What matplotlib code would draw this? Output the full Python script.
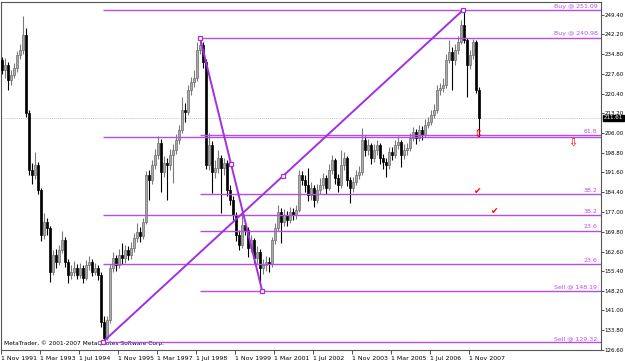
import matplotlib
matplotlib.use("Agg")
import matplotlib.pyplot as plt
import matplotlib.transforms as mtransforms
import numpy as np

# %% data (monthly bars)
first_open = 232.8
closes = [229.1, 230.9, 225.4, 227.3, 229.8, 234.6, 236.4, 241.9, 213.4, 192.5,
          190.6, 194.3, 185.1, 168.7, 173.4, 171.2, 155.1, 161.3, 158.8, 163.2,
          166.8, 158.8, 154.0, 155.1, 156.6, 154.0, 156.6, 152.9, 157.7, 158.8,
          155.1, 156.6, 154.0, 136.8, 130.9, 137.5, 156.6, 160.2, 157.7, 161.3,
          160.2, 163.2, 161.3, 163.9, 167.6, 169.8, 168.3, 173.4, 190.6, 188.8,
          194.3, 198.0, 202.4, 191.7, 195.0, 194.3, 198.0, 199.8, 203.5, 207.1,
          214.5, 213.7, 221.8, 224.7, 226.2, 236.4, 238.3, 232.0, 194.3, 201.6,
          191.7, 193.2, 196.9, 193.2, 195.0, 185.1, 181.5, 176.0, 168.7, 165.0,
          172.3, 170.5, 163.9, 166.8, 160.2, 162.4, 156.6, 157.7, 158.8, 157.9,
          166.8, 171.2, 177.1, 173.4, 176.0, 174.1, 177.1, 176.0, 177.8, 190.6,
          188.8, 187.0, 183.3, 185.9, 181.5, 185.1, 187.0, 189.5, 185.9, 192.5,
          196.1, 189.5, 187.0, 194.3, 196.9, 188.8, 185.9, 188.1, 190.6, 191.7,
          203.5, 199.8, 201.6, 196.9, 199.8, 201.6, 196.9, 195.4, 194.3, 199.1,
          198.0, 201.6, 202.7, 198.0, 199.8, 200.5, 204.2, 206.4, 204.2, 207.1,
          205.3, 209.0, 210.1, 212.6, 214.5, 221.8, 222.5, 223.6, 232.8, 235.7,
          232.8, 236.4, 239.4, 245.6, 240.1, 230.9, 234.6, 239.4, 221.8, 211.61]
highs = [234.0, 233.5, 232.0, 229.0, 231.5, 236.0, 238.5, 248.9, 244.5, 214.5,
         195.0, 199.1, 195.5, 186.0, 176.7, 175.0, 172.0, 163.0, 163.5, 165.0,
         170.0, 168.0, 160.0, 157.5, 159.0, 158.0, 158.5, 157.5, 159.5, 161.0,
         160.0, 158.5, 157.5, 155.0, 139.0, 139.0, 158.0, 162.5, 161.5, 163.5,
         165.7, 165.0, 164.5, 166.0, 169.5, 173.0, 171.5, 175.0, 192.0, 192.5,
         196.0, 200.0, 205.0, 204.0, 197.5, 197.0, 200.0, 202.0, 205.5, 209.0,
         219.2, 217.0, 223.5, 226.5, 229.0, 239.4, 241.0, 239.5, 233.0, 206.0,
         203.0, 196.0, 199.8, 198.0, 197.0, 196.0, 187.0, 183.0, 177.0, 170.5,
         177.8, 174.0, 171.5, 168.5, 167.5, 164.5, 163.5, 160.0, 161.0, 160.5,
         168.0, 173.0, 179.6, 178.5, 178.0, 177.5, 179.0, 178.5, 179.5, 192.5,
         192.0, 190.5, 193.2, 188.0, 187.0, 187.5, 189.5, 191.5, 190.5, 194.5,
         198.0, 197.0, 191.0, 199.8, 199.0, 197.5, 190.0, 190.0, 192.5, 194.0,
         207.9, 205.0, 204.0, 202.5, 202.0, 203.5, 202.5, 198.5, 197.0, 201.0,
         201.0, 203.5, 205.0, 203.5, 202.0, 202.5, 206.0, 208.2, 207.5, 209.0,
         208.5, 211.0, 212.0, 214.5, 216.5, 223.5, 224.5, 226.0, 235.0, 240.1,
         237.5, 238.5, 241.5, 247.5, 251.1, 241.0, 236.5, 240.5, 240.0, 223.0]
lows = [227.5, 226.0, 221.8, 223.5, 226.0, 228.5, 233.0, 235.0, 212.0, 190.5,
        187.5, 189.0, 183.5, 166.5, 167.0, 168.5, 151.4, 154.0, 156.5, 157.5,
        162.0, 157.0, 151.1, 152.5, 153.5, 152.5, 152.8, 151.0, 152.0, 156.0,
        153.5, 154.0, 152.0, 135.0, 129.3, 130.0, 136.5, 155.0, 155.5, 156.5,
        158.0, 158.5, 159.5, 160.0, 162.5, 166.0, 166.0, 167.0, 172.5, 181.5,
        187.5, 193.0, 196.5, 184.4, 190.0, 181.5, 192.5, 187.7, 198.5, 202.0,
        206.0, 210.0, 212.5, 220.0, 223.0, 225.0, 235.0, 230.0, 193.0, 192.5,
        184.0, 189.5, 191.5, 176.7, 190.5, 183.0, 179.5, 174.0, 166.5, 163.0,
        164.0, 168.5, 160.6, 162.5, 158.5, 158.0, 151.4, 154.5, 155.5, 155.0,
        157.0, 165.5, 170.0, 165.7, 172.0, 172.0, 173.0, 174.0, 174.5, 177.0,
        187.0, 184.5, 181.0, 181.5, 179.0, 180.5, 183.5, 185.5, 183.5, 185.0,
        191.0, 187.5, 184.5, 186.0, 192.5, 186.5, 180.4, 184.5, 187.0, 189.0,
        190.5, 197.5, 198.0, 194.5, 195.5, 198.0, 194.5, 193.0, 189.9, 193.0,
        196.0, 197.0, 200.0, 193.6, 196.5, 198.0, 199.5, 203.0, 202.0, 203.0,
        203.5, 204.5, 208.0, 209.0, 211.5, 213.5, 220.0, 221.0, 222.5, 231.5,
        221.8, 231.0, 235.0, 238.5, 239.0, 219.2, 229.5, 233.0, 220.5, 204.6]

date_labels = ["1 Nov 1991", "1 Mar 1993", "1 Jul 1994", "1 Nov 1995", "1 Mar 1997",
               "1 Jul 1998", "1 Nov 1999", "1 Mar 2001", "1 Jul 2002", "1 Nov 2003",
               "1 Mar 2005", "1 Jul 2006", "1 Nov 2007"]
bars_per_label = 13
price_ticks = [249.40, 242.20, 234.80, 227.60, 220.40, 213.20, 206.00, 198.80, 191.60,
               184.40, 177.00, 169.80, 162.60, 155.40, 148.20, 141.00, 133.80, 126.60]
last_price = 211.61

# trend lines: (bar index, price) anchors
up_leg = [(33.5, 129.32), (153.7, 251.09)]
down_leg = [(66.0, 240.98), (86.7, 148.3)]

# fibo levels: value, label, start bar (the two 61.8 labels sit on top of each other)
up_levels = [251.09, 204.57, 175.84, 158.06, 129.32]
up_names = ["Buy @ 251.09", "", "38.2", "23.6", "Sell @ 129.32"]
down_levels = [240.98, 205.2, 183.6, 170.2, 148.3]
down_names = ["Buy @ 240.98", "61.8", "38.2", "23.6", "Sell @ 148.19"]

# red signal marks: (bar index, price, glyph, size)
signals = [(158.7, 205.6, "\u21d5", 8), (190.3, 202.6, "\u21e9", 8),
           (158.7, 184.5, "\u2714", 6.5), (164.3, 177.2, "\u2714", 6.5)]

PURPLE = "#a030e0"
FIB = "#b54ee6"
FS = 4.5

# %%
opens = [first_open] + closes[:-1]
x = np.arange(len(closes))
o = np.array(opens)
c = np.array(closes)
up = c >= o

fig = plt.figure(figsize=(6.25, 3.61), dpi=100)
ax = fig.add_axes([1 / 625, 11 / 361, 600 / 625, 348 / 361])
ax.set_xlim(-1 / 3, 199 + 2 / 3)
ax.set_ylim(126.51, 254.02)

# wicks then bodies
ax.vlines(x[up], np.array(lows)[up], np.array(highs)[up], color="#7a7a7a", lw=0.8, zorder=2)
ax.vlines(x[~up], np.array(lows)[~up], np.array(highs)[~up], color="black", lw=0.8, zorder=2)
ax.bar(x[up], (c - o)[up], bottom=o[up], width=0.75, color="#a9a9a9",
       edgecolor="#6e6e6e", lw=0.5, zorder=3)
ax.bar(x[~up], (c - o)[~up], bottom=o[~up], width=0.75, color="black",
       edgecolor="black", lw=0.5, zorder=3)

# current price line
ax.axhline(last_price, color="#c8c8c8", lw=0.7, ls=(0, (1, 1)), zorder=1)

# fibo lines and labels
right = ax.get_xlim()[1]
for levels, names, start in [(up_levels, up_names, up_leg[0][0]),
                             (down_levels, down_names, down_leg[0][0])]:
    ax.hlines(levels, start, right, color=FIB, lw=1.0, zorder=4)
    for lv, nm in zip(levels, names):
        if nm:
            ax.text(right - 1.2, lv + 0.5, nm, color=FIB, fontsize=FS,
                    ha="right", va="bottom", zorder=5)

# trend lines with anchor squares
for leg in [up_leg, down_leg]:
    (x0, y0), (x1, y1) = leg
    ax.plot([x0, x1], [y0, y1], color=PURPLE, lw=1.4, zorder=5)
    ax.plot([x0, (x0 + x1) / 2, x1], [y0, (y0 + y1) / 2, y1], ls="none", marker="s",
            ms=3.2, mfc="white", mec=PURPLE, mew=0.9, zorder=6)

for sx, sy, g, fs in signals:
    ax.text(sx, sy, g, color="red", fontsize=fs, ha="center", va="center", zorder=7)

ax.text(0.7, 128.0, "MetaTrader, \u00a9 2001-2007 MetaQuotes Software Corp.",
        fontsize=4.2, color="black", va="bottom", ha="left")

# axes styling
ax.yaxis.tick_right()
ax.set_yticks(price_ticks)
ax.set_yticklabels(["%.2f" % v for v in price_ticks])
ax.set_xticks(np.arange(len(date_labels)) * bars_per_label - 1 / 3)
ax.set_xticklabels(date_labels, ha="left")
ax.tick_params(axis="x", labelsize=FS, length=3, width=0.6, pad=1.0, color="#333333")
ax.tick_params(axis="y", labelsize=4.0, length=2, width=0.6, pad=0.6, color="#333333")
for s in ax.spines.values():
    s.set_color("#555555")
    s.set_linewidth(0.8)

trans = mtransforms.blended_transform_factory(ax.transAxes, ax.transData)
ax.text(1.005, last_price, "%.2f" % last_price, transform=trans, fontsize=4.0,
        color="white", va="center", ha="left",
        bbox=dict(boxstyle="square,pad=0.1", fc="black", ec="black"))

fig.savefig("out.png", dpi=100, facecolor="white")
